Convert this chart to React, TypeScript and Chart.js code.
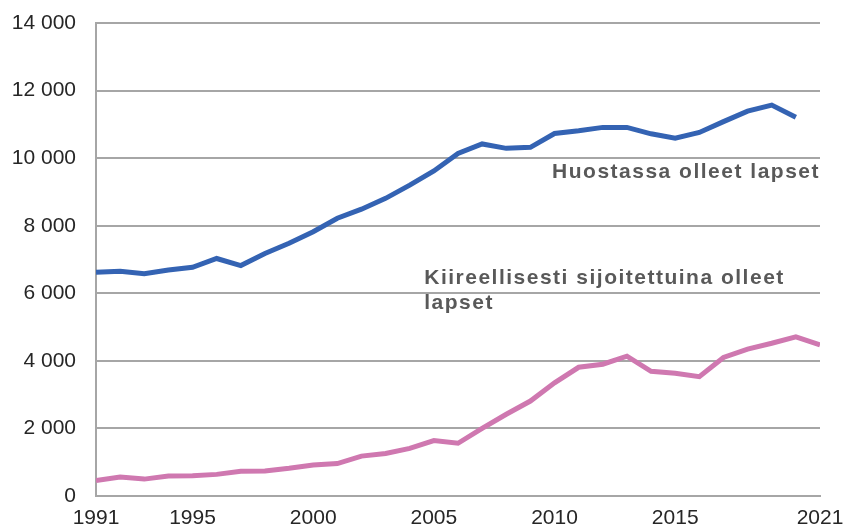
import React, { useEffect, useRef } from "react";
import { Chart, registerables } from "chart.js";

Chart.register(...registerables);

const years: number[] = [];
for (let y = 1991; y <= 2021; y++) years.push(y);

const huostassa: number[] = [
  6620, 6650, 6580, 6690, 6770, 7030, 6820, 7180, 7480, 7820,
  8220, 8490, 8810, 9200, 9620, 10140, 10420, 10290, 10320, 10730,
  10810, 10910, 10910, 10720, 10590, 10760, 11080, 11390, 11570, 11210,
];

const kiireelliset: number[] = [
  460, 560, 500, 590, 600, 640, 730, 740, 820, 920,
  960, 1180, 1260, 1410, 1640, 1560, 2000, 2420, 2810, 3350,
  3810, 3900, 4140, 3690, 3630, 3530, 4100, 4350, 4520, 4710, 4470,
];

const xTickYears = [1991, 1995, 2000, 2005, 2010, 2015, 2021];

const labelHuostassa = "Huostassa olleet lapset";
const labelKiire = ["Kiireellisesti sijoitettuina olleet", "lapset"];

const fmt = (v: number) => String(v).replace(/\B(?=(\d{3})+(?!\d))/g, " ");

const textPlugin = {
  id: "seriesText",
  afterDatasetsDraw(chart: any) {
    const { ctx, scales } = chart;
    const x = scales.x;
    const y = scales.y;
    ctx.save();
    ctx.fillStyle = "#595959";
    ctx.font = "bold 21px 'Liberation Sans', Arial, sans-serif";
    try { (ctx as any).letterSpacing = "1.5px"; } catch (e) {}
    ctx.textBaseline = "middle";
    ctx.textAlign = "right";
    ctx.fillText(labelHuostassa, x.getPixelForValue(2021), y.getPixelForValue(9590));
    ctx.textAlign = "left";
    ctx.fillText(labelKiire[0], x.getPixelForValue(2004.6), y.getPixelForValue(6450));
    ctx.fillText(labelKiire[1], x.getPixelForValue(2004.6), y.getPixelForValue(5710));
    ctx.restore();
  },
};

export default function App() {
  const ref = useRef<HTMLCanvasElement | null>(null);
  useEffect(() => {
    if (!ref.current) return;
    const chart = new Chart(ref.current, {
      type: "line",
      data: {
        datasets: [
          {
            label: labelHuostassa,
            data: huostassa.map((v, i) => ({ x: years[i], y: v })),
            borderColor: "#3463b3",
            borderWidth: 5,
            pointRadius: 0,
            tension: 0,
          },
          {
            label: labelKiire.join(" "),
            data: kiireelliset.map((v, i) => ({ x: years[i], y: v })),
            borderColor: "#cf78b0",
            borderWidth: 5,
            pointRadius: 0,
            tension: 0,
          },
        ],
      },
      options: {
        animation: false,
        responsive: false,
        maintainAspectRatio: false,
        layout: { padding: { top: 23, right: 26, left: 0, bottom: 0 } },
        plugins: { legend: { display: false }, tooltip: { enabled: false } },
        scales: {
          x: {
            type: "linear",
            min: 1991,
            max: 2021,
            afterBuildTicks: (scale: any) => {
              scale.ticks = xTickYears.map((v) => ({ value: v }));
            },
            afterFit: (scale: any) => {
              scale.height = 34;
              scale.paddingLeft = 0;
              scale.paddingRight = 0;
            },
            grid: { display: false, drawTicks: false },
            border: { display: true, color: "#a6a6a6", width: 2 },
            ticks: {
              autoSkip: false,
              maxRotation: 0,
              padding: 10,
              color: "#262626",
              font: { size: 21, family: "'Liberation Sans', Arial, sans-serif" },
              callback: (v: any) => String(v),
            },
          },
          y: {
            min: 0,
            max: 14000,
            afterFit: (scale: any) => {
              scale.width = 96;
              scale.paddingTop = 0;
              scale.paddingBottom = 0;
            },
            grid: { color: "#a6a6a6", lineWidth: 2, drawTicks: false },
            border: { display: true, color: "#a6a6a6", width: 2 },
            ticks: {
              stepSize: 2000,
              padding: 20,
              color: "#262626",
              font: { size: 21, family: "'Liberation Sans', Arial, sans-serif" },
              callback: (v: any) => fmt(Number(v)),
            },
          },
        },
      },
      plugins: [textPlugin],
    });
    return () => chart.destroy();
  }, []);
  return (
    <div style={{ position: "fixed", left: 0, top: 0, width: 846, height: 530, background: "#fff" }}>
      <canvas ref={ref} width={846} height={530} style={{ width: 846, height: 530 }} />
    </div>
  );
}
